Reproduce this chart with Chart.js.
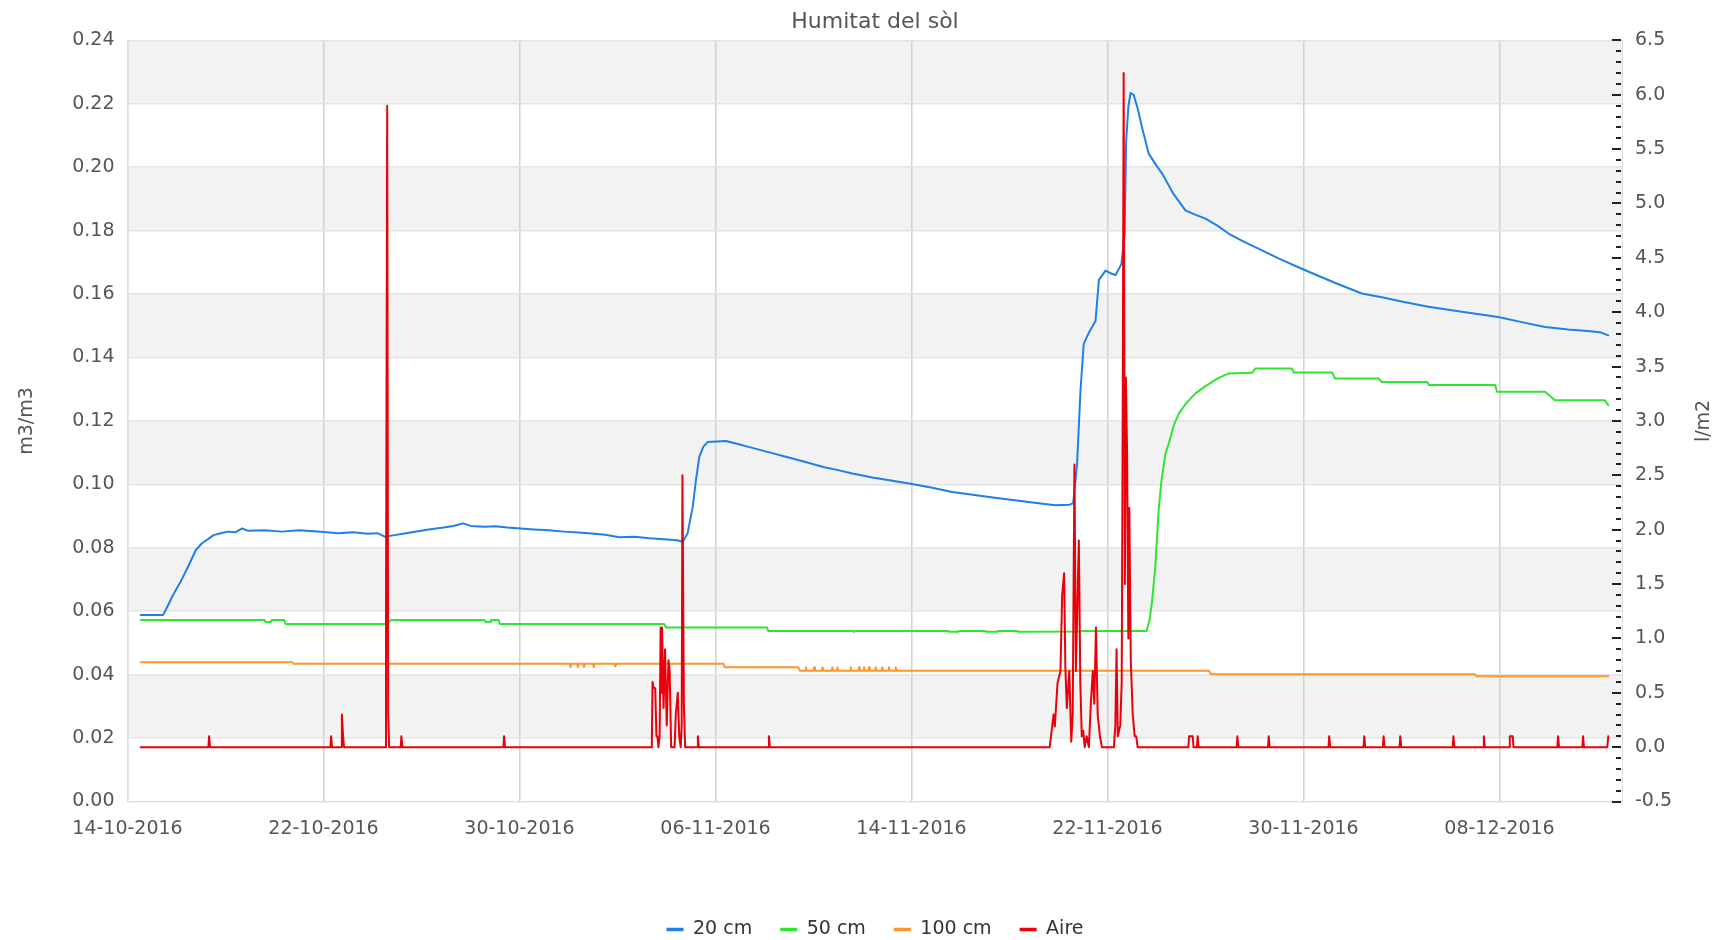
<!DOCTYPE html>
<html>
<head>
<meta charset="utf-8">
<script src="https://cdn.jsdelivr.net/npm/chart.js@4.4.1/dist/chart.umd.min.js"></script>
<style>
  html, body { margin: 0; padding: 0; background: #fff; }
  #wrap { width: 1724px; height: 940px; }
</style>
</head>
<body>
<div id="wrap"><canvas id="humitatChart"></canvas></div>
<script>
// x = days since 14-10-2016 (chart position), y = m3/m3 (soil) or l/m2 (rain)
const xTickLabels = ['14-10-2016', '22-10-2016', '30-10-2016', '06-11-2016', '14-11-2016', '22-11-2016', '30-11-2016', '08-12-2016'];
const seriesNames = ['20 cm', '50 cm', '100 cm', 'Aire'];

const cm20 = [
  [0.54, 0.0588], [1.45, 0.0588], [1.6, 0.061], [1.85, 0.065], [2.2, 0.0698], [2.5, 0.0745], [2.79, 0.0793],
  [3.05, 0.0815], [3.3, 0.0828], [3.51, 0.084], [3.8, 0.0846], [4.1, 0.0851], [4.4, 0.0849], [4.68, 0.0861],
  [4.9, 0.0854], [5.6, 0.0855], [6.3, 0.0851], [7.0, 0.0855], [7.6, 0.0852], [8.03, 0.085], [8.6, 0.0846],
  [9.2, 0.0849], [9.8, 0.0844], [10.2, 0.0846], [10.5, 0.0835], [10.9, 0.084], [11.3, 0.0845], [11.67, 0.085],
  [12.3, 0.0858], [12.9, 0.0864], [13.3, 0.0869], [13.7, 0.0877], [14.0, 0.0869], [14.58, 0.0866], [15.0, 0.0868],
  [15.5, 0.0864], [16.04, 0.0861], [16.6, 0.0858], [17.2, 0.0855], [17.8, 0.0851], [18.4, 0.0848], [18.95, 0.0845],
  [19.5, 0.0841], [20.08, 0.0833], [20.69, 0.0835], [21.3, 0.083], [21.9, 0.0827], [22.44, 0.0824], [22.66, 0.0819],
  [22.86, 0.0845], [23.07, 0.0929], [23.2, 0.1013], [23.34, 0.1087], [23.5, 0.1118], [23.68, 0.1134], [24.43, 0.1137],
  [24.83, 0.1129], [25.5, 0.1115], [26.2, 0.1101], [26.87, 0.1087], [27.6, 0.1072], [28.4, 0.1055], [29.0, 0.1045],
  [29.59, 0.1034], [30.4, 0.1022], [31.1, 0.1013], [31.9, 0.1003], [32.8, 0.099], [33.66, 0.0976], [34.5, 0.0967],
  [35.4, 0.0958], [36.38, 0.0948], [37.1, 0.0941], [37.88, 0.0934], [38.45, 0.0936], [38.6, 0.094], [38.76, 0.1067],
  [38.9, 0.13], [39.03, 0.1443], [39.25, 0.148], [39.51, 0.1515], [39.65, 0.1645], [39.92, 0.1674], [40.15, 0.1665],
  [40.33, 0.166], [40.5, 0.1685], [40.57, 0.1696], [40.7, 0.179], [40.76, 0.208], [40.85, 0.219], [40.94, 0.2234],
  [41.07, 0.2228], [41.25, 0.218], [41.41, 0.2125], [41.68, 0.2043], [42.0, 0.2005], [42.23, 0.198], [42.7, 0.1915],
  [43.18, 0.1864], [43.6, 0.185], [44.0, 0.1838], [44.5, 0.1815], [44.94, 0.1791], [45.5, 0.1768], [46.2, 0.1742],
  [47.0, 0.1712], [47.93, 0.168], [48.6, 0.1658], [49.3, 0.1635], [50.38, 0.1602], [51.2, 0.159], [52.1, 0.1575],
  [53.1, 0.156], [54.46, 0.1544], [55.95, 0.1528], [57.0, 0.151], [57.86, 0.1496], [58.8, 0.1488], [59.6, 0.1484],
  [60.1, 0.148], [60.44, 0.147]
];

const cm50 = [
  [0.54, 0.0572], [5.6, 0.0572], [5.63, 0.0566], [5.85, 0.0566], [5.88, 0.0572], [6.4, 0.0572], [6.45, 0.056],
  [10.6, 0.056], [10.75, 0.0572], [14.58, 0.0572], [14.62, 0.0566], [14.8, 0.0566], [14.83, 0.0572], [15.15, 0.0572],
  [15.2, 0.056], [21.9, 0.056], [21.98, 0.0549], [26.1, 0.0549], [26.15, 0.0538], [29.6, 0.0538], [29.66, 0.0535],
  [29.72, 0.0538], [33.5, 0.0538], [33.55, 0.0535], [33.9, 0.0535], [33.95, 0.0538], [35.0, 0.0538], [35.05, 0.0535],
  [35.5, 0.0535], [35.55, 0.0538], [36.3, 0.0538], [36.35, 0.0535], [38.9, 0.0536], [39.0, 0.0538], [41.6, 0.0538],
  [41.72, 0.0575], [41.82, 0.0632], [41.95, 0.074], [42.09, 0.0922], [42.2, 0.101], [42.36, 0.1095], [42.5, 0.1129],
  [42.7, 0.1185], [42.91, 0.1223], [43.2, 0.1255], [43.59, 0.1287], [44.0, 0.131], [44.5, 0.1334], [44.94, 0.135],
  [45.9, 0.1352], [46.03, 0.1365], [47.53, 0.1365], [47.6, 0.1353], [49.16, 0.1353], [49.29, 0.1334], [51.06, 0.1334],
  [51.19, 0.1323], [53.05, 0.1323], [53.12, 0.1313], [55.82, 0.1313], [55.9, 0.1292], [57.86, 0.1292], [58.26, 0.1265],
  [60.3, 0.1265], [60.44, 0.125]
];

const cm100 = [
  [0.54, 0.0439], [6.72, 0.0439], [6.78, 0.0434], [18.05, 0.0434], [18.08, 0.0424], [18.12, 0.0434], [18.35, 0.0434],
  [18.38, 0.0424], [18.42, 0.0434], [18.6, 0.0434], [18.63, 0.0424], [18.67, 0.0434], [19.0, 0.0434], [19.03, 0.0424],
  [19.07, 0.0434], [19.88, 0.0434], [19.91, 0.0426], [19.95, 0.0434], [24.33, 0.0434], [24.38, 0.0423], [27.38, 0.0423],
  [27.45, 0.0412], [27.66, 0.0412], [27.69, 0.0423], [27.72, 0.0412], [28.0, 0.0412], [28.03, 0.0423], [28.06, 0.0412],
  [28.34, 0.0412], [28.37, 0.0423], [28.4, 0.0412], [28.74, 0.0412], [28.77, 0.0423], [28.8, 0.0412], [28.95, 0.0412],
  [28.98, 0.0423], [29.01, 0.0412], [29.49, 0.0412], [29.52, 0.0423], [29.55, 0.0412], [29.83, 0.0412], [29.86, 0.0423],
  [29.89, 0.0412], [30.03, 0.0412], [30.06, 0.0423], [30.09, 0.0412], [30.24, 0.0412], [30.27, 0.0423], [30.3, 0.0412],
  [30.51, 0.0412], [30.54, 0.0423], [30.57, 0.0412], [30.78, 0.0412], [30.81, 0.0423], [30.84, 0.0412], [31.05, 0.0412],
  [31.08, 0.0423], [31.11, 0.0412], [31.33, 0.0412], [31.36, 0.0423], [31.39, 0.0412], [44.15, 0.0412], [44.22, 0.0401],
  [55.0, 0.0401], [55.06, 0.0395], [60.44, 0.0395]
];

const aire = [
  [0.54, 0], [3.3, 0], [3.33, 0.1], [3.37, 0],
  [8.28, 0], [8.31, 0.1], [8.35, 0], [8.72, 0], [8.75, 0.3], [8.8, 0.1], [8.84, 0],
  [10.52, 0], [10.55, 1.1], [10.6, 5.9], [10.64, 0.3], [10.68, 0],
  [11.15, 0], [11.18, 0.1], [11.22, 0],
  [15.34, 0], [15.37, 0.1], [15.41, 0],
  [21.4, 0], [21.43, 0.6], [21.47, 0.55], [21.54, 0.54], [21.59, 0.1], [21.63, 0.1], [21.67, 0], [21.72, 0.1],
  [21.76, 1.1], [21.79, 0.5], [21.82, 1.1], [21.88, 0.36], [21.94, 0.9], [22.01, 0.2], [22.08, 0.8], [22.13, 0.7],
  [22.19, 0], [22.33, 0], [22.38, 0.3], [22.46, 0.5], [22.52, 0.1], [22.58, 0], [22.62, 0.2], [22.65, 2.5],
  [22.71, 0.4], [22.76, 0],
  [23.25, 0], [23.28, 0.1], [23.32, 0],
  [26.15, 0], [26.18, 0.1], [26.22, 0],
  [37.64, 0], [37.8, 0.3], [37.85, 0.19], [37.96, 0.59], [38.08, 0.7], [38.15, 1.4], [38.23, 1.6], [38.28, 0.73],
  [38.34, 0.36], [38.44, 0.7], [38.52, 0.05], [38.58, 0.3], [38.65, 2.6], [38.71, 0.7], [38.77, 1.3], [38.83, 1.9],
  [38.89, 0.6], [38.95, 0.1], [39.01, 0.15], [39.07, 0], [39.15, 0.1], [39.24, 0], [39.32, 0.4], [39.4, 0.7],
  [39.46, 0.4], [39.53, 1.1], [39.6, 0.3], [39.69, 0.1], [39.77, 0],
  [40.26, 0], [40.32, 0.2], [40.37, 0.9], [40.42, 0.1], [40.52, 0.2], [40.58, 0.6], [40.62, 3.0], [40.66, 6.2],
  [40.71, 1.5], [40.75, 3.4], [40.8, 2.7], [40.85, 1.0], [40.89, 2.2], [40.95, 0.8], [41.03, 0.3], [41.11, 0.1],
  [41.17, 0.1], [41.23, 0],
  [43.3, 0], [43.33, 0.1], [43.48, 0.1], [43.51, 0], [43.65, 0], [43.68, 0.1], [43.72, 0],
  [45.27, 0], [45.3, 0.1], [45.34, 0], [46.55, 0], [46.58, 0.1], [46.62, 0],
  [49.02, 0], [49.05, 0.1], [49.09, 0], [50.45, 0], [50.48, 0.1], [50.52, 0],
  [51.24, 0], [51.27, 0.1], [51.31, 0], [51.92, 0], [51.95, 0.1], [51.99, 0],
  [54.09, 0], [54.12, 0.1], [54.16, 0], [55.33, 0], [55.36, 0.1], [55.4, 0],
  [56.39, 0], [56.42, 0.1], [56.54, 0.1], [56.57, 0],
  [58.36, 0], [58.39, 0.1], [58.43, 0], [59.38, 0], [59.41, 0.1], [59.45, 0],
  [60.4, 0], [60.44, 0.1]
];

const FONT = 'DejaVu Sans';
const TEXT = '#555';
Chart.defaults.font.family = FONT;

const toXY = arr => arr.map(([x, y]) => ({ x, y }));

// alternating grey bands behind the plot, like the original
const bandsPlugin = {
  id: 'bands',
  beforeDraw(chart) {
    const { ctx, chartArea: a, scales: { y } } = chart;
    ctx.save();
    ctx.fillStyle = '#f2f2f2';
    for (let v = 0.02; v < 0.24; v += 0.04) {
      const top = y.getPixelForValue(v + 0.02);
      const bottom = y.getPixelForValue(v);
      ctx.fillRect(a.left, top, a.right - a.left, bottom - top);
    }
    ctx.restore();
  }
};

// minor/major tick dashes inside the right edge + right axis title
const rightAxisPlugin = {
  id: 'rightAxis',
  afterDraw(chart) {
    const { ctx, chartArea: a, scales: { y2 } } = chart;
    ctx.save();
    ctx.strokeStyle = '#222';
    ctx.lineWidth = 2;
    for (let i = -5; i <= 65; i++) {
      const py = Math.round(y2.getPixelForValue(i / 10));
      const len = i % 5 === 0 ? 9 : 5;
      ctx.beginPath();
      ctx.moveTo(a.right - len - 1, py);
      ctx.lineTo(a.right - 1, py);
      ctx.stroke();
    }
    ctx.translate(chart.width - 20, (a.top + a.bottom) / 2);
    ctx.rotate(-Math.PI / 2);
    ctx.fillStyle = TEXT;
    ctx.font = '19px "' + FONT + '"';
    ctx.textAlign = 'center';
    ctx.textBaseline = 'middle';
    ctx.fillText('l/m2', 0, 0);
    ctx.restore();
  }
};

const ctx = document.getElementById('humitatChart').getContext('2d');
const humitatChart = new Chart(ctx, {
  type: 'line',
  data: {
    datasets: [
      { label: seriesNames[0], data: toXY(cm20), borderColor: '#1e80e8', yAxisID: 'y', order: 1 },
      { label: seriesNames[1], data: toXY(cm50), borderColor: '#2ee62e', yAxisID: 'y', order: 2 },
      { label: seriesNames[2], data: toXY(cm100), borderColor: '#ff9428', yAxisID: 'y', order: 3 },
      { label: seriesNames[3], data: toXY(aire), borderColor: '#e8000b', yAxisID: 'y2', order: 0 }
    ]
  },
  options: {
    responsive: true,
    maintainAspectRatio: false,
    animation: false,
    layout: { padding: { left: 26, right: 0, top: 0, bottom: -9 } },
    elements: {
      point: { radius: 0 },
      line: { borderWidth: 2, tension: 0, fill: false, borderJoinStyle: 'round', borderCapStyle: 'round' }
    },
    scales: {
      x: {
        type: 'linear',
        min: 0,
        max: 61,
        grid: { color: '#d2d2d2', lineWidth: 1.5, drawTicks: false },
        border: { color: '#dcdcdc' },
        ticks: {
          stepSize: 8,
          includeBounds: false,
          autoSkip: false,
          maxRotation: 0,
          padding: 16,
          color: TEXT,
          font: { size: 19 },
          callback: v => xTickLabels[v / 8]
        },
        afterFit: s => { s.height = 90.5; }
      },
      y: {
        position: 'left',
        min: 0,
        max: 0.24,
        grid: { color: '#e4e4e4', lineWidth: 1.5, drawTicks: false },
        border: { color: '#dcdcdc' },
        ticks: { stepSize: 0.02, padding: 13, color: TEXT, font: { size: 19 }, callback: v => v.toFixed(2) },
        title: { display: true, text: 'm3/m3', color: TEXT, font: { size: 19 }, padding: { top: -10, bottom: 0 } },
        afterFit: s => { s.width = 101.5; }
      },
      y2: {
        position: 'right',
        min: -0.5,
        max: 6.5,
        grid: { drawOnChartArea: false, drawTicks: false },
        border: { color: '#dcdcdc' },
        ticks: { stepSize: 0.5, padding: 13, color: TEXT, font: { size: 19 }, callback: v => v.toFixed(1) },
        afterFit: s => { s.width = 102; }
      }
    },
    plugins: {
      title: {
        display: true,
        text: 'Humitat del sòl',
        color: TEXT,
        font: { size: 22, weight: 'normal' },
        padding: { top: 9, bottom: 5 }
      },
      legend: {
        position: 'bottom',
        labels: {
          color: '#333',
          font: { size: 19 },
          usePointStyle: true,
          pointStyleWidth: 17,
          padding: 28,
          sort: (a, b) => a.datasetIndex - b.datasetIndex,
          generateLabels: chart => Chart.defaults.plugins.legend.labels.generateLabels(chart)
            .map(item => ({ ...item, pointStyle: 'line', lineWidth: 3.5 }))
        }
      },
      tooltip: { enabled: false }
    }
  },
  plugins: [bandsPlugin, rightAxisPlugin]
});
</script>
</body>
</html>
